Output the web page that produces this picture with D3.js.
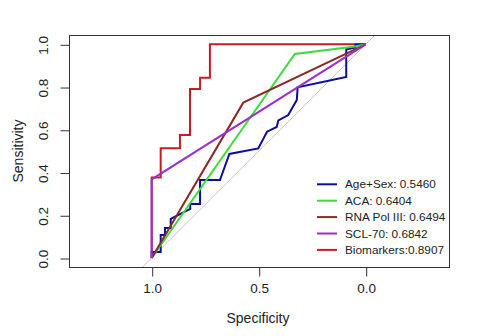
<!DOCTYPE html>
<html><head><meta charset="utf-8">
<script src="https://cdn.jsdelivr.net/npm/d3@7"></script>
<style>html,body{margin:0;padding:0;background:#fff;}svg{display:block;font-family:"Liberation Sans",Arial,sans-serif;}</style>
</head><body>
<svg id="chart" width="484" height="336"></svg>
<script>
// ---- data ----
const specTicks = [1.0, 0.5, 0.0];
const sensTicks = [0.0, 0.2, 0.4, 0.6, 0.8, 1.0];
const seriesNames = ["Age+Sex", "ACA", "RNA Pol III", "SCL-70", "Biomarkers"];
const legendLabels = ["Age+Sex: 0.5460", "ACA: 0.6404", "RNA Pol III: 0.6494", "SCL-70: 0.6842", "Biomarkers:0.8907"];
const seriesColors = ["#0c0ca0", "#3cdc3c", "#8b2828", "#9a2ed0", "#c21f24"];

const ageSexSpec = [1, 1, 0.958, 0.958, 0.938, 0.938, 0.911, 0.911, 0.82, 0.82, 0.774, 0.774, 0.681, 0.637, 0.502, 0.461, 0.416, 0.408, 0.362, 0.322, 0.318, 0.091, 0.091, 0.048, 0.048, 0];
const ageSexSens = [0, 0.028, 0.028, 0.108, 0.108, 0.14, 0.14, 0.183, 0.23, 0.253, 0.253, 0.365, 0.365, 0.487, 0.513, 0.591, 0.613, 0.644, 0.669, 0.739, 0.799, 0.847, 0.976, 0.985, 0.999, 1];
const acaSpec = [1, 0.331, 0.05, 0];
const acaSens = [0, 0.955, 0.99, 1];
const rnaSpec = [1, 0.572, 0];
const rnaSens = [0, 0.727, 1];
const sclSpec = [1, 1, 0];
const sclSens = [0, 0.368, 1];
const bioSpec = [1, 1, 0.958, 0.958, 0.868, 0.868, 0.821, 0.821, 0.774, 0.774, 0.728, 0.728, 0];
const bioSens = [0, 0.377, 0.377, 0.513, 0.513, 0.576, 0.576, 0.791, 0.791, 0.844, 0.844, 1, 1];

const seriesSpec = [ageSexSpec, acaSpec, rnaSpec, sclSpec, bioSpec];
const seriesSens = [ageSexSens, acaSens, rnaSens, sclSens, bioSens];
const drawOrder = [4, 0, 1, 2, 3];

// ---- layout ----
const svg = d3.select("#chart");
const box = {x0: 69, x1: 449, y0: 35, y1: 267};
const x = d3.scaleLinear().domain([1, 0]).range([151.7, 365.7]);
const y = d3.scaleLinear().domain([0, 1]).range([258, 44.3]);

svg.append("defs").append("clipPath").attr("id", "clip")
  .append("rect").attr("x", box.x0).attr("y", box.y0)
  .attr("width", box.x1 - box.x0).attr("height", box.y1 - box.y0);

const plot = svg.append("g").attr("clip-path", "url(#clip)");

// diagonal reference line (sens = 1 - spec)
const dlo = x.invert(box.x0), dhi = x.invert(box.x1);
plot.append("line")
  .attr("x1", x(dlo)).attr("y1", y(1 - dlo))
  .attr("x2", x(dhi)).attr("y2", y(1 - dhi))
  .attr("stroke", "#c4c4c4").attr("stroke-width", 1);

const line = d3.line().x(d => x(d[0])).y(d => y(d[1]));
drawOrder.forEach(i => {
  const pts = seriesSpec[i].map((s, k) => [s, seriesSens[i][k]]);
  plot.append("path").datum(pts).attr("d", line)
    .attr("fill", "none").attr("stroke", seriesColors[i])
    .attr("stroke-width", 2).attr("stroke-linejoin", "miter");
});

// box
svg.append("rect").attr("x", box.x0 + 0.5).attr("y", box.y0 + 0.5)
  .attr("width", box.x1 - box.x0).attr("height", box.y1 - box.y0)
  .attr("fill", "none").attr("stroke", "#333").attr("stroke-width", 1);

// x axis
const xAxis = d3.axisBottom(x).tickValues(specTicks).tickFormat(d3.format(".1f")).tickSize(9).tickPadding(7);
const gx = svg.append("g").attr("transform", `translate(0.5,${box.y1 + 0.5})`).call(xAxis);
gx.select(".domain").remove();
gx.selectAll("line").attr("stroke", "#333");
gx.selectAll("text").attr("font-size", "13.5px").attr("fill", "#222").attr("font-family", "Liberation Sans, Arial, sans-serif");

// y axis
const yAxis = d3.axisLeft(y).tickValues(sensTicks).tickFormat(d3.format(".1f")).tickSize(9);
const gy = svg.append("g").attr("transform", `translate(${box.x0 + 0.5},0.5)`).call(yAxis);
gy.select(".domain").remove();
gy.selectAll("line").attr("stroke", "#333");
gy.selectAll("text").remove();
gy.selectAll(".tick").append("text")
  .attr("transform", "translate(-26,0) rotate(-90)")
  .attr("text-anchor", "middle").attr("dy", "0.35em")
  .attr("font-size", "13.5px").attr("fill", "#222")
  .attr("font-family", "Liberation Sans, Arial, sans-serif")
  .text(d => d3.format(".1f")(d));

// axis titles
svg.append("text").attr("x", 258).attr("y", 318).attr("dy", "0.35em")
  .attr("text-anchor", "middle").attr("font-size", "14px").attr("fill", "#222")
  .text("Specificity");
svg.append("text").attr("transform", "translate(18.5,151) rotate(-90)")
  .attr("dy", "0.35em").attr("text-anchor", "middle")
  .attr("font-size", "14px").attr("fill", "#222").text("Sensitivity");

// legend
const lg = svg.append("g");
seriesNames.forEach((n, i) => {
  const ly = 184.3 + i * 16.4;
  lg.append("line").attr("x1", 317).attr("x2", 337).attr("y1", ly).attr("y2", ly)
    .attr("stroke", seriesColors[i]).attr("stroke-width", 2);
  lg.append("text").attr("x", 345).attr("y", ly).attr("dy", "0.35em")
    .attr("font-size", "11.8px").attr("fill", "#222").text(legendLabels[i]);
});
</script>
</body></html>
